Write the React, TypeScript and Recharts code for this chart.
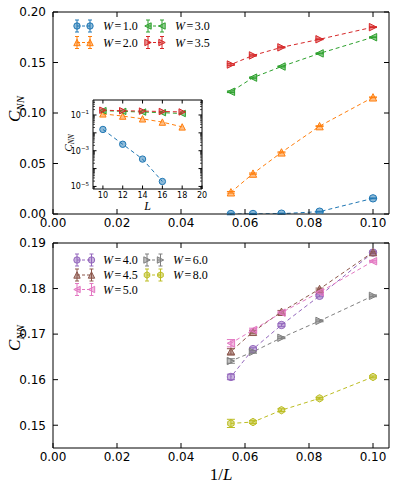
import React from 'react';
import { LineChart, Line, XAxis, YAxis, ErrorBar } from 'recharts';

// ---------- data ----------
const L_VALUES = [10, 12, 14, 16, 18];
const INV_L = [0.1, 0.0833, 0.0714, 0.0625, 0.0556];

const X_TICKS = [0, 0.02, 0.04, 0.06, 0.08, 0.1];
const TOP_Y_TICKS = [0, 0.05, 0.1, 0.15, 0.2];
const BOT_Y_TICKS = [0.15, 0.16, 0.17, 0.18, 0.19];
const INSET_X_TICKS = [10, 12, 14, 16, 18, 20];
const INSET_Y_MAJOR = [1e-5, 1e-4, 1e-3, 1e-2, 1e-1];
const INSET_Y_LABELED = [1e-5, 1e-3, 1e-1];

// top panel (W = 1.0, 2.0, 3.0, 3.5), ordered L = 10,12,14,16,18
const W10 = [0.0155, 0.0023, 0.00034, 0.000019, 0];
const W20 = [0.1155, 0.087, 0.061, 0.04, 0.0215];
const W30 = [0.175, 0.159, 0.146, 0.135, 0.121];
const W35 = [0.185, 0.173, 0.165, 0.157, 0.148];
const TOP_ERR = [0.0004, 0.0004, 0.0005, 0.0006, 0.0008];

// bottom panel (W = 4.0, 4.5, 5.0, 6.0, 8.0)
const W40 = [0.1879, 0.1784, 0.172, 0.1667, 0.1606];
const W45 = [0.188, 0.1799, 0.1749, 0.1705, 0.1662];
const W50 = [0.186, 0.1792, 0.1747, 0.1709, 0.168];
const W60 = [0.1784, 0.1729, 0.1692, 0.1661, 0.1641];
const W80 = [0.1606, 0.1559, 0.1533, 0.1507, 0.1504];
const W40_ERR = [0.0002, 0.0002, 0.0003, 0.0003, 0.0006];
const W45_ERR = [0.0002, 0.0002, 0.0003, 0.0003, 0.0006];
const W50_ERR = [0.0002, 0.0002, 0.0003, 0.0004, 0.0008];
const W60_ERR = [0.0002, 0.0002, 0.0002, 0.0003, 0.0005];
const W80_ERR = [0.0002, 0.0002, 0.0003, 0.0003, 0.0009];

type Shape = 'o' | '^' | '<' | '>' | 'h';
interface Series { key: string; label: string; values: number[]; err: number[]; color: string; shape: Shape; }

const TOP_SERIES: Series[] = [
  { key: 'w10', label: '1.0', values: W10, err: TOP_ERR, color: '#1f77b4', shape: 'o' },
  { key: 'w20', label: '2.0', values: W20, err: TOP_ERR, color: '#ff7f0e', shape: '^' },
  { key: 'w30', label: '3.0', values: W30, err: TOP_ERR, color: '#2ca02c', shape: '<' },
  { key: 'w35', label: '3.5', values: W35, err: TOP_ERR, color: '#d62728', shape: '>' },
];
const BOT_SERIES: Series[] = [
  { key: 'w40', label: '4.0', values: W40, err: W40_ERR, color: '#9467bd', shape: 'o' },
  { key: 'w45', label: '4.5', values: W45, err: W45_ERR, color: '#8c564b', shape: '^' },
  { key: 'w50', label: '5.0', values: W50, err: W50_ERR, color: '#e377c2', shape: '<' },
  { key: 'w60', label: '6.0', values: W60, err: W60_ERR, color: '#7f7f7f', shape: '>' },
  { key: 'w80', label: '8.0', values: W80, err: W80_ERR, color: '#bcbd22', shape: 'h' },
];

function buildRows(series: Series[], xs: number[], positiveOnly = false) {
  return xs.map((x, i) => {
    const row: any = { x };
    series.forEach((s) => {
      const v = s.values[i];
      row[s.key] = positiveOnly && !(v > 0) ? null : v;
      row[s.key + 'e'] = s.err[i];
    });
    return row;
  });
}
const topRows = buildRows(TOP_SERIES, INV_L);
const botRows = buildRows(BOT_SERIES, INV_L);
const insetRows = buildRows(TOP_SERIES, L_VALUES, true);

const INSET_Y_TICKS: number[] = (() => {
  const out: number[] = [];
  for (let e = -6; e <= 0; e++) {
    for (let m = 1; m <= 9; m++) {
      const v = m * Math.pow(10, e);
      if (v >= 7.2e-6 && v <= 0.69) out.push(v);
    }
  }
  return out;
})();

// ---------- styling helpers ----------
const SANS = '"DejaVu Sans", sans-serif';
const SERIF = '"Liberation Serif", "DejaVu Serif", serif';

function Marker({ cx, cy, shape, color, s = 3.7 }: any) {
  if (cx == null || cy == null || isNaN(cx) || isNaN(cy)) return <g />;
  const common = { fill: color, fillOpacity: 0.5, stroke: color, strokeWidth: 1 };
  if (shape === 'o') return <circle cx={cx} cy={cy} r={s} {...common} />;
  let pts: number[][] = [];
  if (shape === '^') pts = [[0, -1], [-1, 1], [1, 1]];
  if (shape === '<') pts = [[-1, 0], [1, -1], [1, 1]];
  if (shape === '>') pts = [[1, 0], [-1, -1], [-1, 1]];
  if (shape === 'h') {
    pts = [0, 1, 2, 3, 4, 5].map((k) => {
      const a = (Math.PI / 180) * (90 + 60 * k);
      return [Math.cos(a), -Math.sin(a)];
    });
  }
  const str = pts.map(([px, py]) => `${cx + px * s},${cy + py * s}`).join(' ');
  return <polygon points={str} {...common} />;
}

const fmt2 = (v: number) => v.toFixed(2);

function BottomTick(p: any) {
  const { x, y, payload, fmt, len, fs, gap } = p;
  return (
    <g>
      <line x1={x} x2={x} y1={y} y2={y - len} stroke="#000" strokeWidth={1} />
      {fmt ? (
        <text x={x} y={y + gap} textAnchor="middle" fontSize={fs} fontFamily={SANS} fill="#000">
          {fmt(payload.value)}
        </text>
      ) : null}
    </g>
  );
}
function TopTick(p: any) {
  const { x, y, len } = p;
  return <line x1={x} x2={x} y1={y} y2={y + len} stroke="#000" strokeWidth={1} />;
}
function LeftTick(p: any) {
  const { x, y, payload, fmt, len, fs, gap } = p;
  return (
    <g>
      <line x1={x} x2={x + len} y1={y} y2={y} stroke="#000" strokeWidth={1} />
      {fmt ? (
        <text x={x - gap} y={y + fs * 0.36} textAnchor="end" fontSize={fs} fontFamily={SANS} fill="#000">
          {fmt(payload.value)}
        </text>
      ) : null}
    </g>
  );
}
function RightTick(p: any) {
  const { x, y, len } = p;
  return <line x1={x} x2={x - len} y1={y} y2={y} stroke="#000" strokeWidth={1} />;
}

function isMajorDecade(v: number) {
  return INSET_Y_MAJOR.some((m) => Math.abs(v / m - 1) < 1e-6);
}
function InsetLeftTick(p: any) {
  const { x, y, payload } = p;
  const v = payload.value;
  const major = isMajorDecade(v);
  const labeled = INSET_Y_LABELED.some((m) => Math.abs(v / m - 1) < 1e-6);
  const exp = Math.round(Math.log10(v));
  return (
    <g>
      <line x1={x} x2={x + (major ? 3.5 : 2)} y1={y} y2={y} stroke="#000" strokeWidth={major ? 1 : 0.7} />
      {labeled ? (
        <text x={x - 4} y={y + 3} textAnchor="end" fontSize={8} fontFamily={SANS} fill="#000">
          10<tspan dy={-3.5} fontSize={5.5}>{'\u2212' + Math.abs(exp)}</tspan>
        </text>
      ) : null}
    </g>
  );
}
function InsetRightTick(p: any) {
  const { x, y, payload } = p;
  const major = isMajorDecade(payload.value);
  return <line x1={x} x2={x - (major ? 3.5 : 2)} y1={y} y2={y} stroke="#000" strokeWidth={major ? 1 : 0.7} />;
}

function renderSeries(series: Series[], withErr: boolean, s: number, xId: string, yId: string) {
  return series.map((ser) => (
    <Line
      key={ser.key}
      xAxisId={xId}
      yAxisId={yId}
      dataKey={ser.key}
      stroke={ser.color}
      strokeWidth={1}
      strokeDasharray="4 3"
      isAnimationActive={false}
      activeDot={false}
      connectNulls
      dot={(p: any) => <Marker key={`${ser.key}-${p.index}`} cx={p.cx} cy={p.cy} shape={ser.shape} color={ser.color} s={s} />}
    >
      {withErr ? (
        <ErrorBar dataKey={ser.key + 'e'} width={4} stroke={ser.color} strokeWidth={1} direction="y" isAnimationActive={false} />
      ) : null}
    </Line>
  ));
}

function LegendOverlay({ series, cols, rows }: { series: Series[]; cols: { m1: number; m2: number; t: number }[]; rows: number[] }) {
  const perCol = rows.length;
  return (
    <g>
      {series.map((ser, i) => {
        const c = cols[Math.floor(i / perCol)];
        const y = rows[i % perCol];
        return (
          <g key={ser.key}>
            <line x1={c.m1} x2={c.m2} y1={y} y2={y} stroke={ser.color} strokeDasharray="3 2" strokeWidth={1} />
            {[c.m1, c.m2].map((mx) => (
              <g key={mx}>
                <line x1={mx} x2={mx} y1={y - 6} y2={y + 6} stroke={ser.color} strokeWidth={1} />
                <line x1={mx - 2} x2={mx + 2} y1={y - 6} y2={y - 6} stroke={ser.color} strokeWidth={1} />
                <line x1={mx - 2} x2={mx + 2} y1={y + 6} y2={y + 6} stroke={ser.color} strokeWidth={1} />
                <Marker cx={mx} cy={y} shape={ser.shape} color={ser.color} s={3.2} />
              </g>
            ))}
            <text x={c.t} y={y + 4} fontSize={12} fontFamily={SERIF} fill="#000">
              <tspan fontStyle="italic">W</tspan>
              <tspan dx={1.5}>=</tspan>
              <tspan dx={1.5}>{ser.label}</tspan>
            </text>
          </g>
        );
      })}
    </g>
  );
}

function CNN({ x, y, fs, sub }: any) {
  return (
    <text x={x} y={y} transform={`rotate(-90, ${x}, ${y})`} textAnchor="middle" fontSize={fs} fontFamily={SERIF} fontStyle="italic" fill="#000">
      C<tspan fontSize={sub} dy={fs * 0.22}>NN</tspan>
    </text>
  );
}

export default function App() {
  const axisCommon = { stroke: '#000', tickLine: false, tickSize: 0, tickMargin: 0, interval: 0 as any, allowDataOverflow: true };
  return (
    <div style={{ position: 'absolute', left: 0, top: 0, width: 394, height: 488, background: '#fff' }}>
      {/* top panel */}
      <div style={{ position: 'absolute', left: 0, top: 0 }}>
        <LineChart width={394} height={232} data={topRows} margin={{ top: 11, right: 4, bottom: 0, left: 8 }}>
          <XAxis xAxisId="b" dataKey="x" type="number" domain={[0, 0.105]} ticks={X_TICKS} height={18} {...axisCommon}
            tick={(p: any) => <BottomTick {...p} fmt={fmt2} len={5} fs={12} gap={13} />} />
          <XAxis xAxisId="t" orientation="top" dataKey="x" type="number" domain={[0, 0.105]} ticks={X_TICKS} height={1} {...axisCommon}
            tick={(p: any) => <TopTick {...p} len={5} />} />
          <YAxis yAxisId="l" type="number" domain={[0, 0.2]} ticks={TOP_Y_TICKS} width={45} {...axisCommon}
            tick={(p: any) => <LeftTick {...p} fmt={fmt2} len={5} fs={12} gap={7} />} />
          <YAxis yAxisId="r" orientation="right" type="number" domain={[0, 0.2]} ticks={TOP_Y_TICKS} width={1} {...axisCommon}
            tick={(p: any) => <RightTick {...p} len={5} />} />
          {renderSeries(TOP_SERIES, true, 3.7, 'b', 'l')}
        </LineChart>
      </div>

      {/* inset */}
      <div style={{ position: 'absolute', left: 55, top: 90 }}>
        <LineChart width={158} height={125} data={insetRows} margin={{ top: 9, right: 10, bottom: 0, left: 0 }}>
          <XAxis xAxisId="b" dataKey="x" type="number" domain={[9, 20]} ticks={INSET_X_TICKS} height={26} {...axisCommon}
            tick={(p: any) => <BottomTick {...p} fmt={(v: number) => String(v)} len={3.5} fs={8} gap={9} />} />
          <XAxis xAxisId="t" orientation="top" dataKey="x" type="number" domain={[9, 20]} ticks={INSET_X_TICKS} height={1} {...axisCommon}
            tick={(p: any) => <TopTick {...p} len={3.5} />} />
          <YAxis yAxisId="l" type="number" scale="log" domain={[7.2e-6, 0.69]} ticks={INSET_Y_TICKS} width={38} {...axisCommon}
            tick={(p: any) => <InsetLeftTick {...p} />} />
          <YAxis yAxisId="r" orientation="right" type="number" scale="log" domain={[7.2e-6, 0.69]} ticks={INSET_Y_TICKS} width={1} {...axisCommon}
            tick={(p: any) => <InsetRightTick {...p} />} />
          {renderSeries(TOP_SERIES, false, 3.2, 'b', 'l')}
        </LineChart>
      </div>

      {/* bottom panel */}
      <div style={{ position: 'absolute', left: 0, top: 230 }}>
        <LineChart width={394} height={258} data={botRows} margin={{ top: 12, right: 4, bottom: 0, left: 8 }}>
          <XAxis xAxisId="b" dataKey="x" type="number" domain={[0, 0.105]} ticks={X_TICKS} height={40} {...axisCommon}
            tick={(p: any) => <BottomTick {...p} fmt={fmt2} len={5} fs={12} gap={13} />} />
          <XAxis xAxisId="t" orientation="top" dataKey="x" type="number" domain={[0, 0.105]} ticks={X_TICKS} height={1} {...axisCommon}
            tick={(p: any) => <TopTick {...p} len={5} />} />
          <YAxis yAxisId="l" type="number" domain={[0.145, 0.19]} ticks={BOT_Y_TICKS} width={45} {...axisCommon}
            tick={(p: any) => <LeftTick {...p} fmt={fmt2} len={5} fs={12} gap={7} />} />
          <YAxis yAxisId="r" orientation="right" type="number" domain={[0.145, 0.19]} ticks={BOT_Y_TICKS} width={1} {...axisCommon}
            tick={(p: any) => <RightTick {...p} len={5} />} />
          {renderSeries(BOT_SERIES, true, 3.7, 'b', 'l')}
        </LineChart>
      </div>

      {/* legends and axis titles */}
      <svg width={394} height={488} style={{ position: 'absolute', left: 0, top: 0, pointerEvents: 'none' }}>
        <LegendOverlay series={TOP_SERIES} cols={[{ m1: 77, m2: 90, t: 103 }, { m1: 148, m2: 162, t: 175 }]} rows={[26, 42.5]} />
        <LegendOverlay series={BOT_SERIES} cols={[{ m1: 77, m2: 91.5, t: 103 }, { m1: 147, m2: 160.5, t: 173 }]} rows={[260, 275, 289.5]} />
        <CNN x={20} y={109} fs={17} sub={11} />
        <CNN x={20} y={338} fs={17} sub={11} />
        <CNN x={72} y={143} fs={11} sub={7.5} />
        <text x={147.5} y={210} textAnchor="middle" fontSize={12} fontFamily={SERIF} fontStyle="italic" fill="#000">L</text>
        <text x={221} y={480} textAnchor="middle" fontSize={17} fontFamily={SERIF} fill="#000">
          1/<tspan fontStyle="italic">L</tspan>
        </text>
      </svg>
    </div>
  );
}
